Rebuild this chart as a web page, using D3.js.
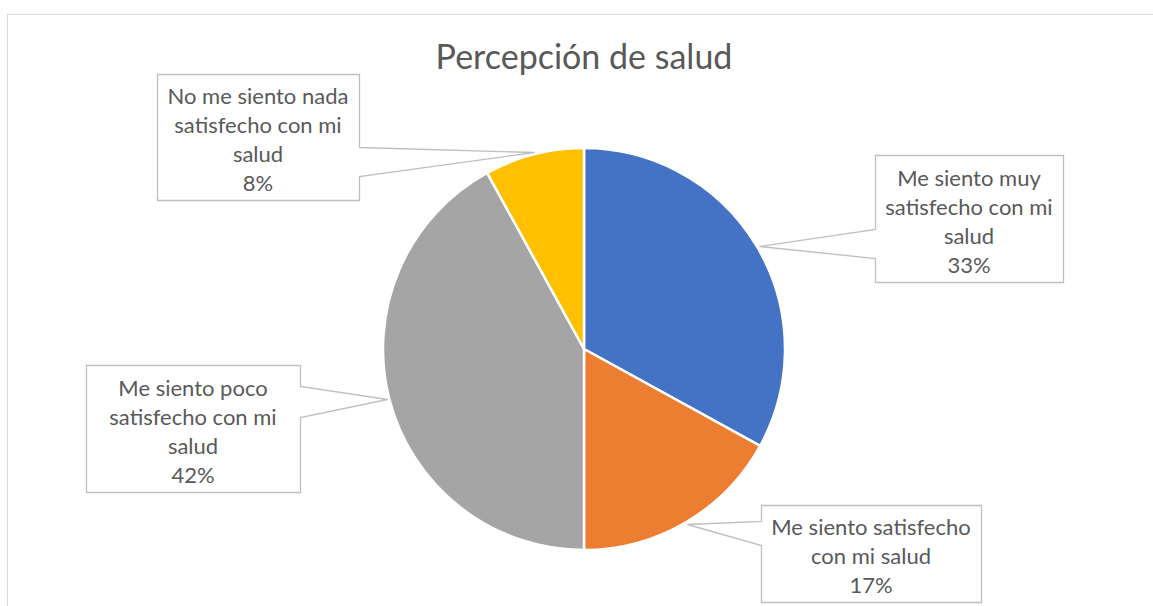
<!DOCTYPE html>
<html>
<head>
<meta charset="utf-8">
<script src="https://cdn.jsdelivr.net/npm/d3@7"></script>
<style>
  body { margin: 0; background: #fff; }
  svg text { font-family: Lato, "Open Sans", sans-serif; fill: #595959; }
</style>
</head>
<body>
<svg id="chart" width="1153" height="606"></svg>
<script>
// data
const categories = [
  "Me siento muy satisfecho con mi salud",
  "Me siento satisfecho con mi salud",
  "Me siento poco satisfecho con mi salud",
  "No me siento nada satisfecho con mi salud"
];
const values = [33, 17, 42, 8];
const colors = ["#4472C4", "#ED7D31", "#A5A5A5", "#FFC000"];
// how each label wraps in its box
const labelLines = [
  ["Me siento muy", "satisfecho con mi", "salud"],
  ["Me siento satisfecho", "con mi salud"],
  ["Me siento poco", "satisfecho con mi", "salud"],
  ["No me siento nada", "satisfecho con mi", "salud"]
];

// label box placement (x, y, w, h)
const boxes = [
  { x: 875, y: 155, w: 188, h: 127 },
  { x: 761, y: 505, w: 220, h: 97 },
  { x: 86,  y: 365, w: 214, h: 127 },
  { x: 157, y: 74,  w: 202, h: 126 }
];

const svg = d3.select("#chart");
const cx = 584, cy = 349, radius = 201;
const lineH = 29;

// outer chart frame
svg.append("rect")
  .attr("x", 7.5).attr("y", 14.5)
  .attr("width", 1160).attr("height", 620)
  .attr("fill", "none")
  .attr("stroke", "#d9d9d9")
  .attr("stroke-width", 1);

svg.append("text")
  .attr("x", cx).attr("y", 69)
  .attr("text-anchor", "middle")
  .style("font-size", "34px")
  .text("Percepción de salud");

const pie = d3.pie().sort(null).value(d => d);
const arcs = pie(values);
const arc = d3.arc().innerRadius(0).outerRadius(radius);
const tipArc = d3.arc().innerRadius(radius + 2).outerRadius(radius + 2);

const g = svg.append("g").attr("transform", `translate(${cx},${cy})`);
g.selectAll("path.slice")
  .data(arcs)
  .enter()
  .append("path")
  .attr("class", "slice")
  .attr("d", arc)
  .attr("fill", (d, i) => colors[i])
  .attr("stroke", "#fff")
  .attr("stroke-width", 2.5)
  .attr("stroke-linejoin", "round");

// callout boxes with a pointer towards the slice
arcs.forEach((d, i) => {
  const b = boxes[i];
  const c = tipArc.centroid(d);
  const tx = cx + c[0], ty = cy + c[1];
  const below = ty > b.y + b.h / 2;
  const y1 = b.y + b.h * (below ? 0.58 : 0.165);
  const y2 = b.y + b.h * (below ? 0.81 : 0.41);
  const left = tx < b.x;
  const x0 = b.x, x1 = b.x + b.w, yb = b.y + b.h;
  let pts;
  if (left) {
    pts = [[x0, b.y], [x1, b.y], [x1, yb], [x0, yb], [x0, y2], [tx, ty], [x0, y1]];
  } else {
    pts = [[x0, b.y], [x1, b.y], [x1, y1], [tx, ty], [x1, y2], [x1, yb], [x0, yb]];
  }
  svg.append("path")
    .attr("d", d3.line()(pts.map(p => [Math.round(p[0]) + 0.5, Math.round(p[1]) + 0.5])) + "Z")
    .attr("fill", "#fff")
    .attr("stroke", "#bfbfbf")
    .attr("stroke-width", 1.3);

  const lines = labelLines[i].concat([d3.format(".0f")(d.data) + "%"]);
  const mid = b.y + b.h / 2 + 3;
  const t = svg.append("text")
    .attr("text-anchor", "middle")
    .style("font-size", "22px");
  lines.forEach((ln, k) => {
    t.append("tspan")
      .attr("x", b.x + b.w / 2)
      .attr("y", mid + (k - (lines.length - 1) / 2) * lineH)
      .attr("dy", "0.35em")
      .text(ln);
  });
  t.append("title").text(categories[i]);
});
</script>
</body>
</html>
